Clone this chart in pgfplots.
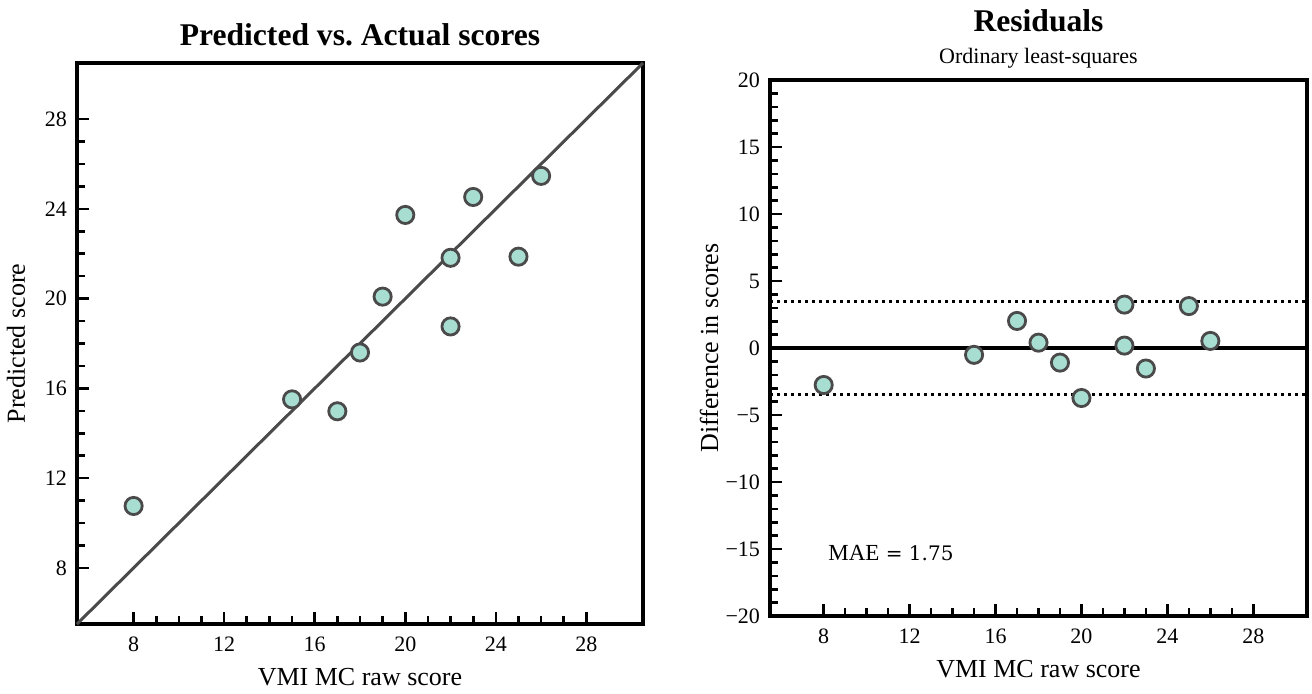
\documentclass[border=0pt]{standalone}
\usepackage{pgfplots}
\pgfplotsset{compat=1.18}
\usepackage{fontspec}
\setmainfont{Liberation Serif}
\newfontfamily\dvs{DejaVu Serif}
\definecolor{mint}{HTML}{A8DDD2}
\definecolor{edge}{HTML}{4A4A4A}

\pgfplotsset{
  panel/.style={
    scale only axis, clip=false,
    axis line style={line width=1.6pt},
    xtick pos=bottom, ytick pos=left,
    xtick align=inside, ytick align=inside,
    major tick length=6pt, minor tick length=4pt,
    every tick/.style={line width=1.3pt, black},
    xmin=5.5, xmax=30.5, xtick={8,12,...,28}, minor x tick num=3,
    /pgf/number format/assume math mode=true,
    tick label style={font=\fontsize{11}{13}\selectfont},
    xticklabel style={yshift=-3pt},
    yticklabel style={xshift=-1.5pt},
    label style={font=\fontsize{13}{15}\selectfont},
    xlabel style={at={(axis description cs:0.5,0)}, anchor=base, yshift=-30.5pt},
    ylabel style={at={(axis description cs:0,0.5)}, anchor=base, yshift=26pt},
    every axis title/.style={at={(axis description cs:0.5,1)}, anchor=base,
      font=\bfseries\fontsize{15.8}{18}\selectfont},
  },
  pts/.style={only marks, mark=*, mark size=4.3pt,
    mark options={fill=mint, draw=edge, line width=1.4pt}},
  ref/.style={black, line width=1.3pt, dash pattern=on 1.3pt off 2.2pt},
}

\begin{document}
\begin{tikzpicture}
\useasboundingbox (-38.5pt,-34.5pt) rectangle (617.5pt,312pt);

% Predicted vs actual
\begin{axis}[panel, at={(0pt,0pt)}, anchor=south west,
  width=283pt, height=280.5pt,
  ymin=5.5, ymax=30.5, ytick={8,12,...,28}, minor y tick num=3,
  xlabel={VMI MC raw score}, ylabel={Predicted score},
  title={Predicted vs.\ Actual scores}, title style={yshift=9pt}]
\addplot[pts] coordinates {
  (8,10.76)(15,15.51)(17,14.98)(18,17.60)(19,20.09)(20,23.73)
  (22,21.82)(22,18.76)(23,24.53)(25,21.87)(26,25.47)};
\addplot[edge, line width=1.5pt] coordinates {(5.5,5.5)(30.5,30.5)};
\end{axis}

% Residuals
\begin{axis}[panel, at={(346.5pt,4pt)}, anchor=south west,
  width=268.5pt, height=268pt,
  ymin=-20, ymax=20, ytick={-20,-15,...,20}, minor y tick num=4,
  yticklabels={−20,−15,−10,−5,0,5,10,15,20},
  xlabel={VMI MC raw score}, ylabel={Difference in scores},
  title={Residuals}, title style={yshift=24.5pt}]
\addplot[pts] coordinates {
  (8,-2.76)(15,-0.51)(17,2.02)(18,0.40)(19,-1.09)(20,-3.73)
  (22,0.18)(22,3.24)(23,-1.53)(25,3.13)(26,0.53)};
\addplot[black, line width=1.6pt] coordinates {(5.5,0)(30.5,0)};
\addplot[ref] coordinates {(5.5,3.45)(30.5,3.45)};
\addplot[ref] coordinates {(5.5,-3.45)(30.5,-3.45)};
\node[anchor=base, yshift=8.5pt, font=\fontsize{11}{13}\selectfont]
  at (rel axis cs:0.5,1) {Ordinary least-squares};
\node[anchor=base west, inner sep=0pt, font=\fontsize{11.5}{13}\selectfont]
  at (rel axis cs:0.108,0.104) {MAE{\dvs\fontsize{10}{12}\selectfont\ = 1.75}};
\end{axis}
\end{tikzpicture}
\end{document}
